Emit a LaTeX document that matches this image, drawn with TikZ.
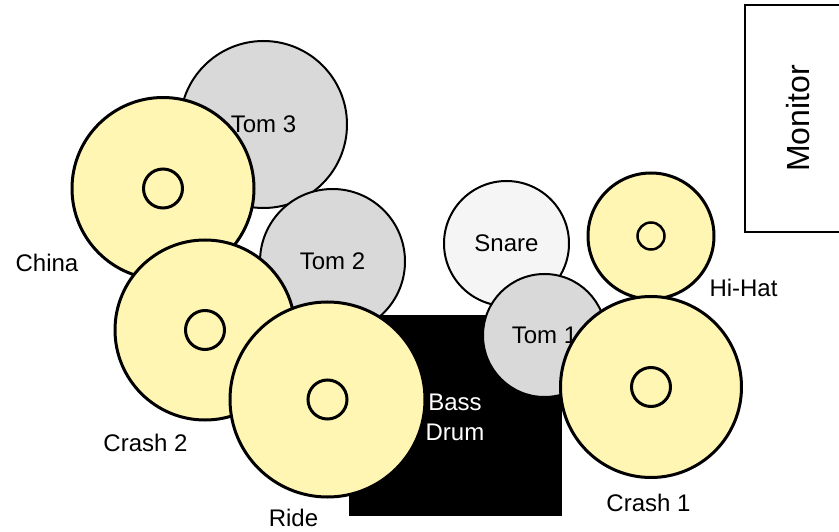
\documentclass[tikz,border=0pt]{standalone}
\usepackage{fontspec}
\setmainfont{Liberation Sans}
\definecolor{cymbal}{HTML}{FFF6B4}
\definecolor{tomgray}{HTML}{D9D9D9}
\definecolor{snaregray}{HTML}{F5F5F5}
\tikzset{
  drumbox/.style={circle, draw=black, line width=2pt, fill=tomgray, inner sep=0pt, font=\fontsize{24}{30}\selectfont},
  cymbalbox/.style={circle, draw=black, line width=3pt, fill=cymbal, inner sep=0pt},
  bellbox/.style={circle, draw=black, line width=3pt, fill=cymbal, inner sep=0pt},
  lbl/.style={anchor=base, inner sep=0pt, font=\fontsize{24}{30}\selectfont},
}
\begin{document}
\begin{tikzpicture}[x=1pt, y=-1pt]
\useasboundingbox (0,0) rectangle (839,532);
\clip (0,0) rectangle (839,532);
% Monitor
\node[draw=black, line width=2pt, minimum width=227pt, minimum height=106pt, rotate=90,
      inner sep=0pt, font=\fontsize{32}{38}\selectfont] (monitor) at (798,118.5) {Monitor};
% Tom 3
\node[drumbox, minimum size=167pt] (tom3) at (263.5,124.5) {Tom 3};
% China
\node[cymbalbox, minimum size=182pt] (china) at (163,188.5) {};
\node[bellbox, minimum size=39pt] (chinabell) at (china.center) {};
% Tom 2
\node[drumbox, minimum size=145pt] (tom2) at (332.5,261.5) {Tom 2};
% Crash 2
\node[cymbalbox, minimum size=180pt] (crash2) at (205,330) {};
\node[bellbox, minimum size=39pt] (crash2bell) at (crash2.center) {};
% Snare
\node[drumbox, fill=snaregray, minimum size=125pt] (snare) at (506.5,243.5) {Snare};
% Hi-Hat
\node[cymbalbox, minimum size=126pt] (hihat) at (651,236) {};
\node[bellbox, line width=2.5pt, minimum size=27pt] (hihatbell) at (hihat.center) {};
% Bass drum
\node[fill=black, draw=black, minimum width=212pt, minimum height=200pt, inner sep=0pt] (bass) at (455,415) {};
% Ride
\node[cymbalbox, minimum size=195pt] (ride) at (327.5,399.5) {};
\node[bellbox, minimum size=39pt] (ridebell) at (ride.center) {};
\node[text=white, align=center, inner sep=0pt, font=\fontsize{24}{30}\selectfont] (basstext) at (455,417) {Bass\\Drum};
% Tom 1
\node[drumbox, minimum size=123pt] (tom1) at (544.5,335.5) {Tom 1};
% Crash 1
\node[cymbalbox, minimum size=181pt] (crash1) at (651,387) {};
\node[bellbox, minimum size=39pt] (crash1bell) at (crash1.center) {};
% Labels
\node[lbl] (chinalbl) at (47,271.6) {China};
\node[lbl] (crash2lbl) at (145.5,451.6) {Crash 2};
\node[lbl] (ridelbl) at (293.5,526.6) {Ride};
\node[lbl] (crash1lbl) at (648.5,511.6) {Crash 1};
\node[lbl] (hihatlbl) at (743.5,296.6) {Hi-Hat};
\end{tikzpicture}
\end{document}
